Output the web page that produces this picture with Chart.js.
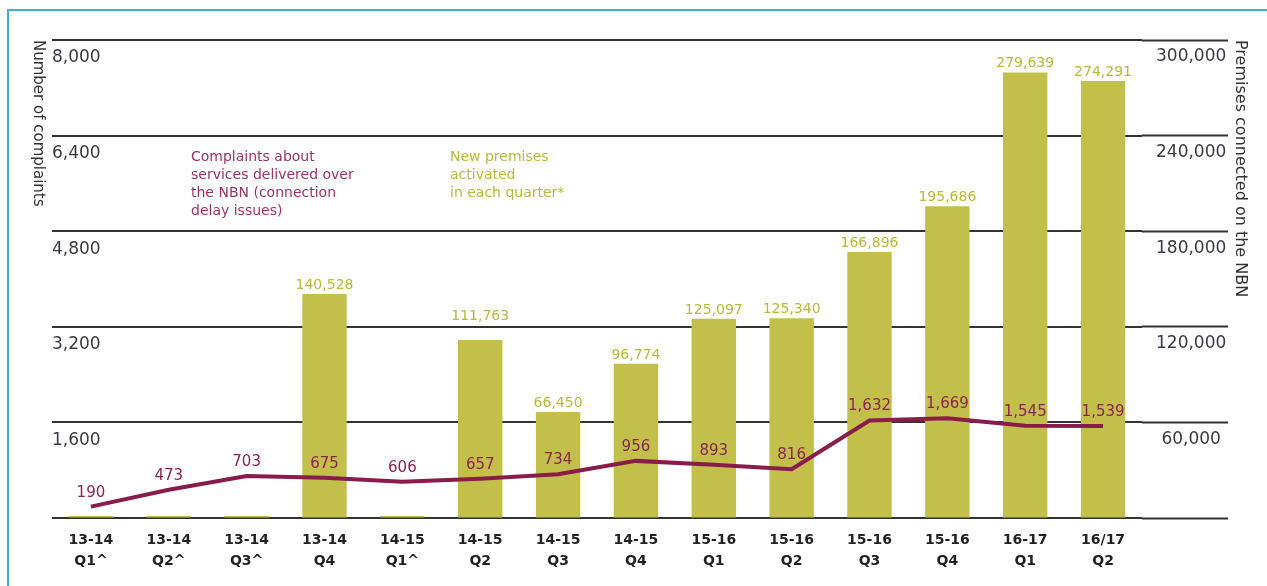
<!DOCTYPE html>
<html>
<head>
<meta charset="utf-8">
<script src="https://cdn.jsdelivr.net/npm/chart.js@4.4.1/dist/chart.umd.min.js"></script>
<style>
  body { margin: 0; background: #fff; }
  #wrap { position: relative; width: 1267px; height: 586px; overflow: hidden; font-family: "DejaVu Sans", sans-serif; }
  #frame { position: absolute; left: 7px; top: 9px; right: -10px; bottom: -10px; border-left: 2px solid #3fb0cf; border-top: 2px solid #3fb0cf; }
  .note { position: absolute; font-size: 14px; line-height: 18px; }
  #yTitle { position: absolute; left: 30px; top: 40px; writing-mode: vertical-rl; font-size: 15px; color: #333; }
</style>
</head>
<body>
<div id="wrap">
  <canvas id="myChart" width="1267" height="586"></canvas>
  <div id="frame"></div>
  <div id="yTitle">Number of complaints</div>
  <div class="note" style="left:191px; top:147px; color:#9a3466;">Complaints about<br>services delivered over<br>the NBN (connection<br>delay issues)</div>
  <div class="note" style="left:450px; top:147px; color:#b9b93c;">New premises<br>activated<br>in each quarter*</div>
</div>
<script>
const labels = [
    ['13-14', 'Q1^'],
    ['13-14', 'Q2^'],
    ['13-14', 'Q3^'],
    ['13-14', 'Q4'],
    ['14-15', 'Q1^'],
    ['14-15', 'Q2'],
    ['14-15', 'Q3'],
    ['14-15', 'Q4'],
    ['15-16', 'Q1'],
    ['15-16', 'Q2'],
    ['15-16', 'Q3'],
    ['15-16', 'Q4'],
    ['16-17', 'Q1'],
    ['16/17', 'Q2'],
];

// complaints (left axis)
const complaints = [190, 473, 703, 675, 606, 657, 734, 956, 893, 816, 1632, 1669, 1545, 1539];

// new premises activated (right axis), no figure for the ^ quarters
const premises = [0, 0, 0, 140528, 0, 111763, 66450, 96774, 125097, 125340, 166896, 195686, 279639, 274291];

const leftTicks = [0, 1600, 3200, 4800, 6400, 8000];
const rightTicks = [0, 60000, 120000, 180000, 240000, 300000];

const maroon = 'rgb(138, 28, 75)';
const olive = 'rgb(194, 191, 74)';

const fmt = (v) => v.toLocaleString('en-US');

// draws the numbers above bars and line points
const valueLabels = {
    id: 'valueLabels',
    afterDatasetsDraw(chart) {
        const ctx = chart.ctx;
        const gridYs = leftTicks.map(v => chart.scales.y.getPixelForValue(v));
        ctx.save();
        ctx.textAlign = 'center';
        ctx.textBaseline = 'alphabetic';

        ctx.font = '14px "DejaVu Sans"';
        ctx.fillStyle = '#b8b93a';
        chart.getDatasetMeta(1).data.forEach((bar, i) => {
            if (!premises[i]) return;
            let y = bar.y - 5;
            // keep the label clear of a grid line
            const hit = gridYs.find(g => g > y - 13 && g < y + 2);
            if (hit !== undefined) y = hit - 7;
            ctx.fillText(fmt(premises[i]), bar.x, y);
        });

        ctx.font = '15px "DejaVu Sans"';
        ctx.fillStyle = 'rgb(140, 36, 82)';
        chart.getDatasetMeta(0).data.forEach((pt, i) => {
            ctx.fillText(fmt(complaints[i]), pt.x, pt.y - 10);
        });
        ctx.restore();
    }
};

const data = {
    labels: labels,
    datasets: [{
        type: 'line',
        label: 'Complaints',
        data: complaints,
        yAxisID: 'y',
        borderColor: maroon,
        borderWidth: 4,
        pointRadius: 0,
        tension: 0,
        order: 0,
    }, {
        type: 'bar',
        label: 'New premises',
        data: premises,
        yAxisID: 'y1',
        backgroundColor: olive,
        categoryPercentage: 1,
        barPercentage: 0.57,
        minBarLength: 2,
        order: 1,
    }]
};

const config = {
    type: 'bar',
    data: data,
    options: {
        responsive: false,
        animation: false,
        layout: { padding: { left: 52, top: 40, right: 13, bottom: 2 } },
        plugins: { legend: { display: false }, tooltip: { enabled: false } },
        scales: {
            x: {
                grid: { display: false, drawTicks: false },
                border: { display: false },
                ticks: {
                    color: '#222',
                    padding: 12,
                    maxRotation: 0,
                    font: { family: 'DejaVu Sans', size: 14, weight: 'bold', lineHeight: 1.5 },
                },
            },
            y: {
                position: 'left',
                min: 0,
                max: 8000,
                afterBuildTicks: (axis) => { axis.ticks = leftTicks.map(v => ({ value: v })); },
                grid: { color: '#333', lineWidth: 2, drawTicks: false },
                border: { display: false },
                ticks: {
                    mirror: true,
                    padding: 0,
                    labelOffset: 18,
                    color: '#3a3a4a',
                    font: { family: 'DejaVu Sans', size: 17 },
                    callback: (v) => v === 0 ? '' : fmt(v),
                },
            },
            y1: {
                position: 'right',
                min: 0,
                max: 300000,
                afterBuildTicks: (axis) => { axis.ticks = rightTicks.map(v => ({ value: v })); },
                afterFit: (axis) => { axis.width = 112; },
                grid: { drawOnChartArea: false, drawTicks: true, tickLength: 86, tickColor: '#333', tickWidth: 2 },
                border: { display: false },
                ticks: {
                    padding: -72,
                    crossAlign: 'center',
                    labelOffset: 17,
                    color: '#3a3a4a',
                    font: { family: 'DejaVu Sans', size: 17 },
                    callback: (v) => v === 0 ? '' : fmt(v),
                },
                title: {
                    display: true,
                    text: 'Premises connected on the NBN',
                    align: 'end',
                    color: '#333',
                    font: { family: 'DejaVu Sans', size: 16 },
                    padding: { top: 4, bottom: 4 },
                },
            },
        },
    },
    plugins: [valueLabels],
};

const myChart = new Chart(
    document.getElementById('myChart'),
    config
);
</script>
</body>
</html>
